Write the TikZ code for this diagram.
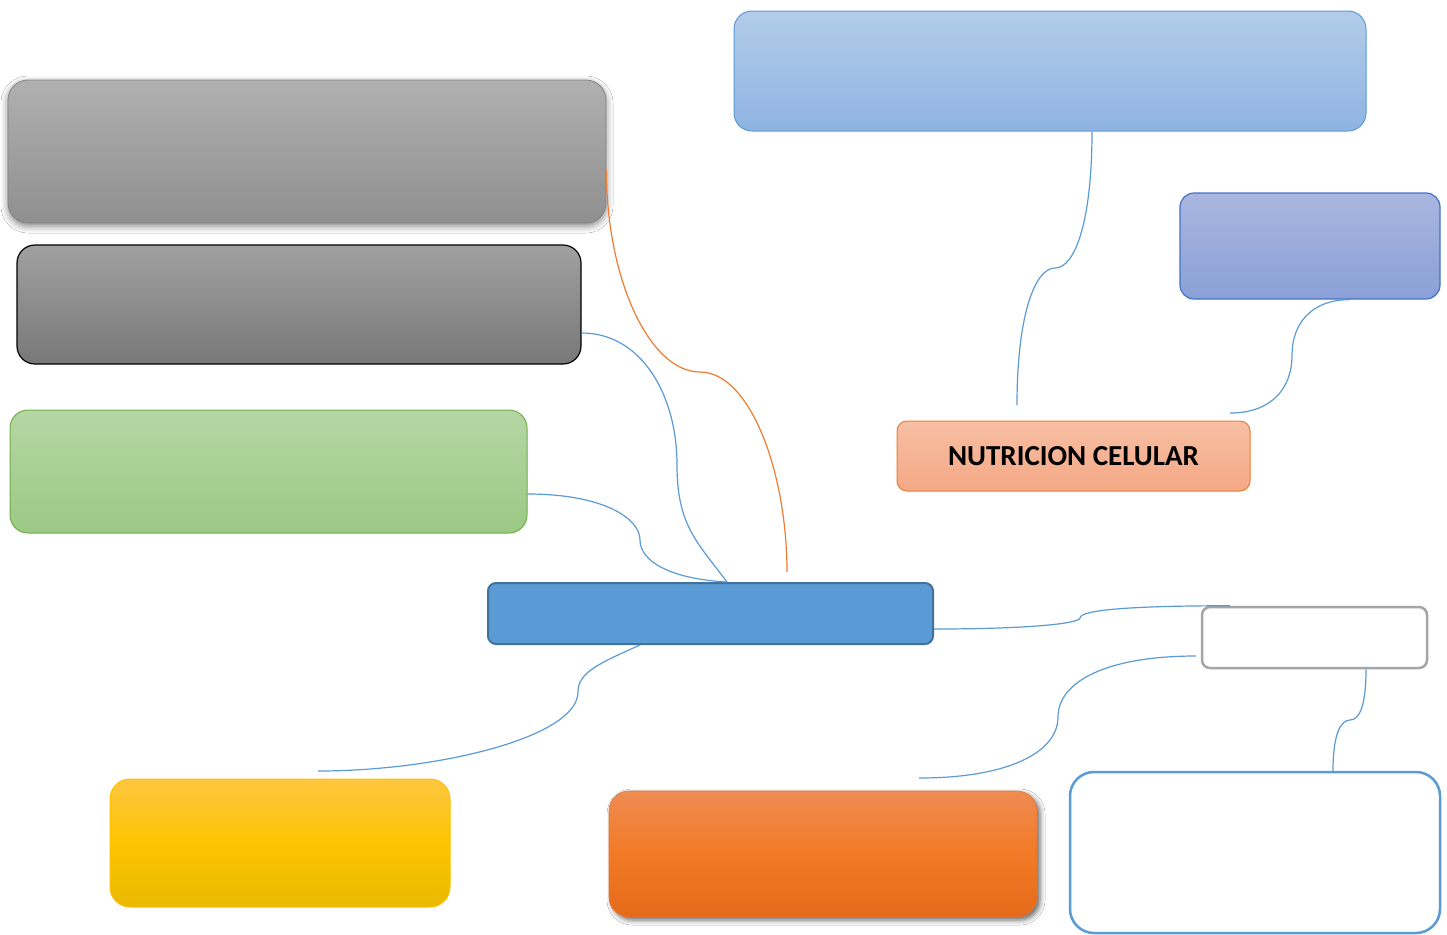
\documentclass[tikz,border=0pt]{standalone}
\usepackage{fontspec}
\setmainfont{Carlito}
\usetikzlibrary{calc,shadows.blur}

% palette
\definecolor{linkblue}{HTML}{5B9BD5}
\definecolor{linkorange}{HTML}{ED7D31}
\definecolor{ctrfill}{HTML}{5B9BD5}
\definecolor{ctrline}{HTML}{41719C}

\tikzset{
  box/.style={rounded corners=#1, inner sep=0pt},
  link/.style={draw=linkblue, line width=0.6pt},
  olink/.style={draw=linkorange, line width=0.6pt},
}

\begin{document}
\begin{tikzpicture}[x=0.5pt, y=-0.5pt]
  % canvas
  \fill[white] (0,0) rectangle (1447,934);
  \useasboundingbox (0,0) rectangle (1447,934);

  % left column
  \node[box=10pt, minimum width=299pt, minimum height=71.5pt,
        top color={rgb,255:red,176;green,176;blue,176}, bottom color={rgb,255:red,143;green,143;blue,143},
        draw={rgb,255:red,130;green,130;blue,130}, line width=0.4pt,
        blur shadow={shadow xshift=0pt, shadow yshift=-1.5pt, shadow blur radius=3.5pt, shadow opacity=50}]
        (g1) at (307,151.5) {};
  \node[box=9pt, minimum width=282pt, minimum height=59.5pt,
        top color={rgb,255:red,160;green,160;blue,160}, bottom color={rgb,255:red,120;green,120;blue,120},
        draw=black, line width=0.6pt]
        (g2) at (299,304.5) {};
  \node[box=9pt, minimum width=258.5pt, minimum height=61.5pt,
        top color={rgb,255:red,181;green,214;blue,165}, bottom color={rgb,255:red,155;green,201;blue,133},
        draw={rgb,255:red,112;green,173;blue,71}, line width=0.5pt]
        (gr) at (268.5,471.5) {};

  % central box
  \node[box=4pt, minimum width=222.5pt, minimum height=30.5pt,
        fill=ctrfill, draw=ctrline, line width=1pt]
        (ctr) at (710.5,613.5) {};

  % bottom row
  \node[box=10pt, minimum width=170pt, minimum height=64pt,
        top color={rgb,255:red,253;green,198;blue,64},
        bottom color={rgb,255:red,232;green,185;blue,0},
        middle color={rgb,255:red,253;green,196;blue,0},
        draw={rgb,255:red,255;green,192;blue,0}, line width=0.5pt]
        (ye) at (280,843) {};
  \node[box=10pt, minimum width=214pt, minimum height=63pt,
        top color={rgb,255:red,239;green,139;blue,83},
        bottom color={rgb,255:red,228;green,106;blue,25},
        middle color={rgb,255:red,242;green,122;blue,38},
        draw={rgb,255:red,230;green,120;blue,50}, line width=0.3pt,
        blur shadow={shadow xshift=1.5pt, shadow yshift=-1.5pt, shadow blur radius=2.5pt, shadow opacity=60}]
        (or) at (823,854) {};
  \node[box=12pt, minimum width=185pt, minimum height=80.5pt,
        fill=white, draw=linkblue, line width=1.25pt]
        (wb) at (1255,852.5) {};
  \node[box=4pt, minimum width=112.5pt, minimum height=30.5pt,
        fill=white, draw={rgb,255:red,165;green,165;blue,165}, line width=1.25pt]
        (gb) at (1314.5,637.5) {};

  % right column
  \node[box=5pt, minimum width=176.5pt, minimum height=35pt,
        top color={rgb,255:red,247;green,191;blue,163}, bottom color={rgb,255:red,244;green,168;blue,134},
        draw=linkorange, line width=0.5pt, font=\bfseries\fontsize{14.5}{16}\selectfont]
        (nc) at (1073.5,456) {NUTRICION CELULAR};
  \node[box=9pt, minimum width=316pt, minimum height=60pt,
        top color={rgb,255:red,178;green,204;blue,233}, bottom color={rgb,255:red,143;green,180;blue,226},
        draw=linkblue, line width=0.5pt]
        (tb) at (1050,71) {};
  \node[box=7pt, minimum width=130pt, minimum height=53pt,
        top color={rgb,255:red,169;green,182;blue,223}, bottom color={rgb,255:red,138;green,160;blue,215},
        draw={rgb,255:red,68;green,114;blue,196}, line width=0.6pt]
        (pu) at (1310,246) {};

  % free connector ends
  \coordinate (oEnd) at (787,572);
  \coordinate (yEnd) at (318,771);
  \coordinate (rEnd) at (919,778);
  \coordinate (tEnd) at (1017,405);
  \coordinate (pEnd) at (1230,413);

  % connectors
  \draw[olink] ($(g1.east)+(0,18.5)$) .. controls +(0,110) and +(-50,0) .. (700,372)
               .. controls +(50,0) and +(0,-100) .. (oEnd);
  \draw[link] ($(g2.east)+(0,28.5)$) .. controls +(60,0) and +(0,-70) .. (677,465)
              .. controls +(0,60) and +(-30,-40) .. ($(ctr.north)+(16.5,0)$);
  \draw[link] ($(gr.east)+(0,22.5)$) .. controls +(75,0) and +(0,-22) .. (640,540)
              .. controls +(0,22) and +(-55,-3) .. ($(ctr.north)+(16.5,0)$);
  \draw[link] ($(ctr.south)+(-70.5,0)$) .. controls +(-40,18) and +(0,-20) .. (578,692)
              .. controls +(0,45) and +(120,0) .. (yEnd);
  \draw[link] ($(ctr.east)+(0,15.5)$) .. controls +(100,0) and +(0,5) .. (1080,618)
              .. controls +(0,-8) and +(-100,0) .. ($(gb.north)+(-84.5,0)$);
  \draw[link] ($(gb.west)+(-5,18.5)$) .. controls +(-90,0) and +(0,-35) .. (1058,717)
              .. controls +(0,35) and +(90,0) .. (rEnd);
  \draw[link] ($(gb.south)+(51.5,0)$) .. controls +(0,35) and +(10,0) .. (1350,720)
              .. controls +(-10,0) and +(0,-35) .. ($(wb.north)+(78,0)$);
  \draw[link] ($(tb.south)+(42,0)$) .. controls +(0,90) and +(20,0) .. (1055,268)
              .. controls +(-20,0) and +(0,-90) .. (tEnd);
  \draw[link] ($(pu.south)+(40,0)$) .. controls +(-40,0) and +(0,-30) .. (1292,355)
              .. controls +(0,35) and +(40,0) .. (pEnd);
\end{tikzpicture}
\end{document}
